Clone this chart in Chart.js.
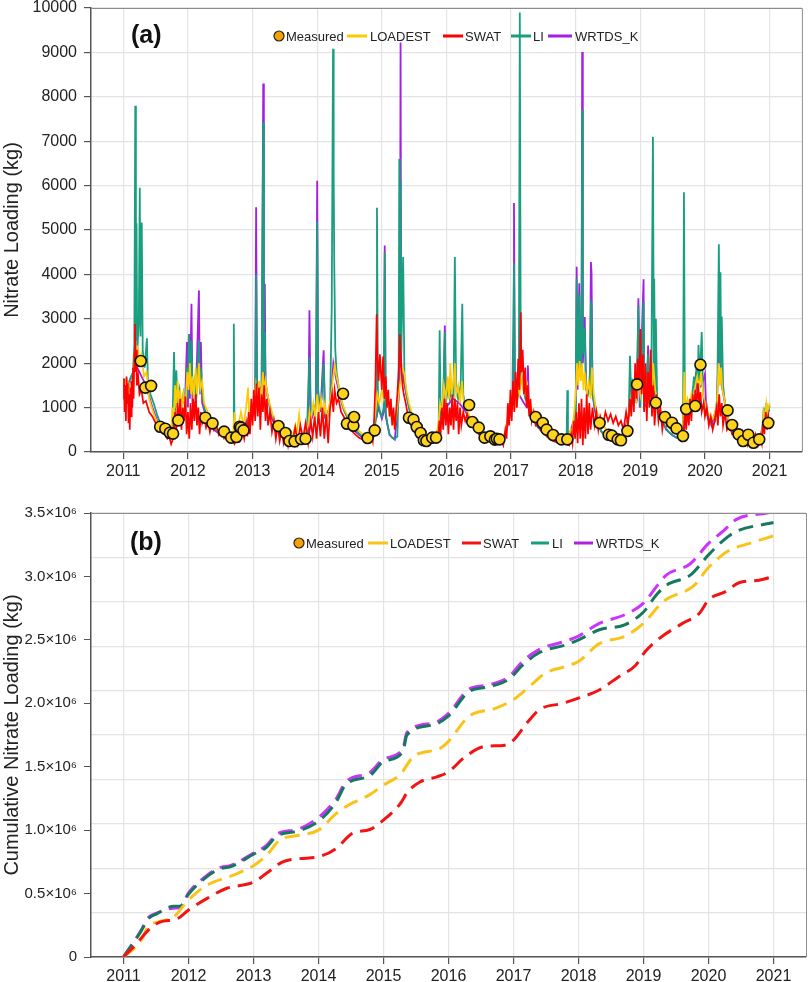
<!DOCTYPE html>
<html>
<head>
<meta charset="utf-8">
<script src="https://cdn.jsdelivr.net/npm/chart.js@4.4.1/dist/chart.umd.min.js"></script>
<style>
  body { margin: 0; background: #fff; }
  #wrap { position: relative; width: 809px; height: 982px; }
  canvas { position: absolute; left: 0; }
</style>
</head>
<body>
<div id="wrap">
  <canvas id="loadChart" width="809" height="478" style="top:0"></canvas>
  <canvas id="cumChart" width="809" height="504" style="top:478px"></canvas>
</div>
<script>
const FONT = '"Liberation Sans", Arial, sans-serif';

const seriesNames = ['Measured', 'LOADEST', 'SWAT', 'LI', 'WRTDS_K'];
const years = [2011, 2012, 2013, 2014, 2015, 2016, 2017, 2018, 2019, 2020, 2021];
const loadTicks = [0, 1000, 2000, 3000, 4000, 5000, 6000, 7000, 8000, 9000, 10000];
const cumTicks = [0, 500000, 1000000, 1500000, 2000000, 2500000, 3000000, 3500000];
const cumTickLabels = ['0', '0.5×10⁶', '1.0×10⁶', '1.5×10⁶', '2.0×10⁶', '2.5×10⁶', '3.0×10⁶', '3.5×10⁶'];

// (a) daily loading, [decimal year, kg]
const measured = [
  [2011.27,2050],[2011.34,1450],[2011.43,1490],[2011.57,570],[2011.65,525],[2011.72,435],[2011.77,413],[2011.85,713],
  [2012.27,773],[2012.38,645],[2012.56,458],[2012.67,323],[2012.75,338],[2012.80,570],[2012.82,548],[2012.86,488],
  [2013.40,585],[2013.51,428],[2013.57,248],[2013.65,240],[2013.75,293],[2013.82,300],
  [2014.40,1313],[2014.46,638],[2014.56,593],[2014.57,788],[2014.78,315],[2014.89,488],
  [2015.42,773],[2015.49,728],[2015.54,563],[2015.60,428],[2015.65,263],[2015.69,248],[2015.78,323],[2015.84,323],
  [2016.35,1058],[2016.40,675],[2016.50,548],[2016.59,323],[2016.68,353],[2016.75,278],[2016.78,300],[2016.82,285],
  [2017.38,788],[2017.49,653],[2017.55,503],[2017.65,383],[2017.78,285],[2017.87,285],
  [2018.37,653],[2018.51,390],[2018.56,368],[2018.65,285],[2018.70,263],[2018.80,473],[2018.95,1523],
  [2019.24,1110],[2019.38,788],[2019.49,660],[2019.56,533],[2019.66,360],[2019.71,968],[2019.85,1035],[2019.93,1965],
  [2020.35,938],[2020.42,608],[2020.52,398],[2020.59,248],[2020.67,390],[2020.75,210],[2020.84,285],[2020.98,653]
];

const swat = [
  [2011.00,1200],[2011.01,1650],[2011.02,900],[2011.03,1500],[2011.04,700],[2011.05,1700],[2011.06,1100],[2011.07,1550],[2011.08,650],[2011.09,1300],
  [2011.10,500],[2011.11,1450],[2011.12,800],[2011.13,1600],[2011.14,1000],[2011.15,1900],[2011.16,1200],[2011.17,2200],[2011.18,2880],[2011.19,1800],
  [2011.20,2300],[2011.21,1500],[2011.23,1700],[2011.25,1300],[2011.28,1400],[2011.31,1100],[2011.35,1150],[2011.40,900],[2011.45,800],[2011.50,650],
  [2011.55,520],[2011.60,450],[2011.65,380],[2011.68,300],[2011.71,350],[2011.74,180],[2011.76,260],[2011.78,500],[2011.80,900],[2011.82,450],
  [2011.84,1100],[2011.86,600],[2011.88,1200],[2011.90,500],[2011.92,1000],[2011.94,700],[2011.96,1250],[2011.98,400],
  [2012.00,900],[2012.02,300],[2012.04,1100],[2012.06,500],[2012.08,1200],[2012.10,700],[2012.12,1300],[2012.14,600],[2012.16,1000],[2012.18,400],
  [2012.20,900],[2012.22,650],[2012.25,800],[2012.28,550],[2012.31,700],[2012.34,450],[2012.37,650],[2012.40,500],[2012.44,600],[2012.48,380],
  [2012.52,450],[2012.56,300],[2012.60,350],[2012.64,220],[2012.68,280],[2012.72,180],[2012.76,350],[2012.80,250],[2012.84,500],[2012.87,300],
  [2012.90,650],[2012.92,350],[2012.94,900],[2012.96,400],[2012.98,1200],
  [2013.00,600],[2013.02,1400],[2013.04,700],[2013.06,1550],[2013.08,800],[2013.10,1450],[2013.12,500],[2013.14,1300],[2013.16,900],[2013.18,1500],
  [2013.20,700],[2013.22,1200],[2013.24,600],[2013.27,900],[2013.30,450],[2013.33,700],[2013.36,300],[2013.39,600],[2013.42,250],[2013.45,500],
  [2013.48,200],[2013.52,450],[2013.55,150],[2013.58,400],[2013.62,250],[2013.66,550],[2013.70,200],[2013.74,600],[2013.78,300],[2013.82,650],
  [2013.86,200],[2013.90,700],[2013.93,350],[2013.96,800],[2013.99,300],
  [2014.02,900],[2014.05,350],[2014.08,1000],[2014.11,300],[2014.14,850],[2014.17,200],[2014.20,1000],[2014.23,1300],[2014.25,900],[2014.27,1400],
  [2014.30,1100],[2014.33,1200],[2014.37,900],[2014.41,800],[2014.45,650],[2014.50,550],[2014.55,450],[2014.60,380],[2014.65,320],[2014.70,280],
  [2014.75,250],[2014.80,220],[2014.84,400],[2014.86,250],[2014.88,700],[2014.90,1500],[2014.92,3100],[2014.93,2200],[2014.95,1600],[2014.97,2200],
  [2015.00,1400],[2015.02,2150],[2015.04,1200],[2015.06,1700],[2015.08,1000],[2015.10,1400],[2015.12,800],[2015.14,1200],[2015.16,600],[2015.18,1000],
  [2015.20,500],[2015.22,900],[2015.24,1300],[2015.26,1800],[2015.28,2650],[2015.30,1900],[2015.32,1500],[2015.34,1300],[2015.37,1100],[2015.40,850],
  [2015.44,700],[2015.48,550],[2015.53,450],[2015.58,350],[2015.63,280],[2015.68,250],[2015.73,300],[2015.78,250],[2015.83,350],[2015.87,250],
  [2015.89,700],[2015.91,400],[2015.93,1000],[2015.95,500],[2015.97,1200],[2015.99,600],
  [2016.01,1100],[2016.03,400],[2016.05,1000],[2016.07,600],[2016.09,1300],[2016.11,500],[2016.13,1200],[2016.15,700],[2016.17,1100],[2016.19,400],
  [2016.21,1000],[2016.23,600],[2016.26,900],[2016.29,700],[2016.32,850],[2016.36,650],[2016.40,600],[2016.45,500],[2016.50,400],[2016.55,330],
  [2016.60,280],[2016.65,250],[2016.70,220],[2016.75,200],[2016.80,180],[2016.85,250],[2016.88,150],[2016.91,500],[2016.93,300],[2016.95,1100],
  [2016.97,600],[2016.99,1400],
  [2017.01,700],[2017.03,1600],[2017.05,900],[2017.07,1800],[2017.09,1000],[2017.11,2100],[2017.13,1400],[2017.15,3150],[2017.16,1800],[2017.18,2300],
  [2017.20,1300],[2017.22,1900],[2017.24,1000],[2017.26,1500],[2017.28,800],[2017.30,1200],[2017.32,700],[2017.35,900],[2017.38,600],[2017.42,650],
  [2017.46,500],[2017.50,450],[2017.55,350],[2017.60,300],[2017.65,250],[2017.70,220],[2017.75,200],[2017.80,180],[2017.85,200],[2017.90,150],
  [2017.93,400],[2017.95,200],[2017.97,700],[2017.99,300],
  [2018.01,900],[2018.03,200],[2018.05,1100],[2018.07,300],[2018.09,1200],[2018.11,150],[2018.13,1000],[2018.15,300],[2018.17,1300],[2018.19,400],
  [2018.21,1100],[2018.23,500],[2018.26,1000],[2018.29,600],[2018.32,900],[2018.35,500],[2018.38,800],[2018.42,600],[2018.46,900],[2018.50,700],
  [2018.54,850],[2018.58,650],[2018.62,800],[2018.66,600],[2018.70,700],[2018.74,500],[2018.78,900],[2018.81,600],[2018.84,1200],[2018.86,800],
  [2018.88,1600],[2018.90,900],[2018.92,2000],[2018.94,1200],[2018.96,2100],[2018.98,1400],
  [2019.00,2770],[2019.02,1300],[2019.04,2200],[2019.06,900],[2019.08,2000],[2019.10,700],[2019.12,1800],[2019.14,1000],[2019.16,2300],[2019.18,800],
  [2019.20,1500],[2019.22,600],[2019.25,1300],[2019.28,700],[2019.31,1000],[2019.34,500],[2019.37,800],[2019.41,600],[2019.45,700],[2019.50,450],
  [2019.55,550],[2019.60,350],[2019.64,250],[2019.67,400],[2019.69,1000],[2019.71,500],[2019.73,1100],[2019.75,600],[2019.77,1200],[2019.79,700],
  [2019.81,1300],[2019.83,900],[2019.85,1400],[2019.87,1000],[2019.89,1550],[2019.91,1100],[2019.93,1350],[2019.95,900],[2019.98,1100],
  [2020.00,800],[2020.03,1000],[2020.06,600],[2020.09,800],[2020.12,500],[2020.15,700],[2020.18,1000],[2020.20,600],[2020.22,1300],[2020.24,800],
  [2020.26,1100],[2020.28,600],[2020.31,900],[2020.34,500],[2020.38,600],[2020.42,400],[2020.46,450],[2020.50,300],[2020.54,350],[2020.58,200],
  [2020.62,300],[2020.66,150],[2020.70,350],[2020.74,200],[2020.78,400],[2020.82,150],[2020.86,350],[2020.88,200],[2020.90,700],[2020.92,400],
  [2020.94,900],[2020.96,500],[2020.98,800],[2021.00,600]
];

const loadest = [
  [2011.00,1500],[2011.05,1650],[2011.10,1400],[2011.15,1700],[2011.18,2300],[2011.20,1900],[2011.22,2400],[2011.25,2000],[2011.28,2200],[2011.32,1700],
  [2011.36,1800],[2011.40,1200],[2011.45,950],[2011.50,750],[2011.55,600],[2011.60,520],[2011.65,450],[2011.70,400],[2011.74,380],[2011.76,1000],
  [2011.78,700],[2011.80,1500],[2011.82,1000],[2011.84,1600],[2011.86,1100],[2011.88,1400],[2011.90,900],[2011.93,1300],[2011.96,1000],[2011.99,1800],
  [2012.01,1400],[2012.03,2000],[2012.05,1300],[2012.07,1700],[2012.09,1200],[2012.12,1900],[2012.14,1300],[2012.17,2000],[2012.19,1400],[2012.22,1600],
  [2012.25,1100],[2012.28,1000],[2012.32,850],[2012.36,700],[2012.40,600],[2012.45,550],[2012.50,450],[2012.55,400],[2012.60,350],[2012.65,320],
  [2012.70,400],[2012.72,900],[2012.74,500],[2012.78,600],[2012.82,900],[2012.86,600],[2012.90,1000],[2012.93,1450],[2012.95,700],[2012.98,900],
  [2013.02,1100],[2013.05,1500],[2013.07,1200],[2013.10,1600],[2013.13,1100],[2013.16,1800],[2013.18,1300],[2013.20,1600],[2013.23,1300],[2013.26,1100],
  [2013.30,900],[2013.34,700],[2013.38,550],[2013.42,450],[2013.47,400],[2013.52,350],[2013.57,300],[2013.62,350],[2013.66,600],[2013.68,400],
  [2013.72,850],[2013.74,500],[2013.78,400],[2013.82,450],[2013.86,600],[2013.88,900],[2013.90,700],[2013.94,1100],[2013.97,800],
  [2014.00,1300],[2014.03,900],[2014.06,1200],[2014.09,800],[2014.12,1100],[2014.15,700],[2014.18,1000],[2014.21,1200],[2014.24,1600],[2014.27,1950],
  [2014.30,1700],[2014.33,1500],[2014.37,1200],[2014.41,1000],[2014.46,850],[2014.52,700],[2014.58,600],[2014.64,480],[2014.70,400],[2014.76,350],
  [2014.82,330],[2014.87,500],[2014.90,900],[2014.93,1300],[2014.96,1100],
  [2015.00,1400],[2015.03,1200],[2015.06,1500],[2015.09,1100],[2015.12,900],[2015.16,700],[2015.20,600],[2015.23,900],[2015.26,1300],[2015.29,1600],
  [2015.32,1900],[2015.35,1750],[2015.38,1400],[2015.42,1100],[2015.46,900],[2015.50,750],[2015.55,600],[2015.60,480],[2015.65,400],[2015.70,350],
  [2015.75,330],[2015.80,350],[2015.85,400],[2015.88,700],[2015.90,1100],[2015.93,900],[2015.96,1500],[2015.99,1200],
  [2016.02,1700],[2016.04,1200],[2016.06,2000],[2016.08,1300],[2016.11,1600],[2016.13,2000],[2016.15,1300],[2016.18,1500],[2016.21,1100],[2016.24,1600],
  [2016.26,1200],[2016.29,1000],[2016.33,900],[2016.37,750],[2016.42,650],[2016.48,550],[2016.54,450],[2016.60,380],[2016.66,330],[2016.72,300],
  [2016.78,290],[2016.84,300],[2016.88,350],[2016.92,500],[2016.95,800],[2016.98,1100],
  [2017.01,1000],[2017.04,1400],[2017.07,1100],[2017.10,1500],[2017.13,1300],[2017.16,1700],[2017.19,1400],[2017.22,1300],[2017.25,1500],[2017.28,1100],
  [2017.32,950],[2017.36,800],[2017.40,700],[2017.45,600],[2017.50,500],[2017.55,430],[2017.60,380],[2017.66,330],[2017.72,300],[2017.78,280],
  [2017.84,290],[2017.88,320],[2017.92,500],[2017.94,400],[2017.97,800],
  [2018.00,1300],[2018.02,2000],[2018.04,1500],[2018.06,2050],[2018.08,1600],[2018.10,2000],[2018.12,1400],[2018.14,1800],[2018.17,1300],[2018.20,1600],
  [2018.23,1200],[2018.25,1900],[2018.28,1300],[2018.31,1000],[2018.35,800],[2018.40,650],[2018.45,550],[2018.50,480],[2018.55,420],[2018.60,380],
  [2018.65,350],[2018.70,330],[2018.75,400],[2018.79,600],[2018.82,900],[2018.85,1100],[2018.88,1300],[2018.91,1500],[2018.94,1200],[2018.97,1700],
  [2019.00,1300],[2019.03,1700],[2019.06,1200],[2019.09,1500],[2019.12,1100],[2019.15,1700],[2019.18,1300],[2019.20,2000],[2019.23,1400],[2019.26,1200],
  [2019.29,1000],[2019.33,850],[2019.37,700],[2019.42,600],[2019.47,500],[2019.52,450],[2019.57,400],[2019.62,380],[2019.66,450],[2019.68,1800],
  [2019.70,1000],[2019.73,1200],[2019.76,1000],[2019.79,1300],[2019.82,1100],[2019.85,1500],[2019.88,1700],[2019.91,1400],[2019.94,1800],[2019.97,1300],
  [2020.00,1100],[2020.04,900],[2020.08,800],[2020.12,750],[2020.16,900],[2020.19,1200],[2020.21,2000],[2020.23,1500],[2020.25,1900],[2020.27,1400],
  [2020.30,1200],[2020.33,900],[2020.37,700],[2020.42,550],[2020.48,450],[2020.54,380],[2020.60,330],[2020.66,300],[2020.72,320],[2020.78,350],
  [2020.84,330],[2020.88,400],[2020.91,900],[2020.93,700],[2020.95,1100],[2020.97,900],[2021.00,1100]
];

const li = [
  [2011.00,1650],[2011.04,1600],[2011.08,1550],[2011.12,1700],[2011.15,1800],[2011.17,2400],[2011.185,7800],[2011.195,2500],[2011.205,5150],[2011.215,2200],
  [2011.24,3000],[2011.255,5950],[2011.265,2600],[2011.285,5170],[2011.30,2300],[2011.33,1900],[2011.365,2560],[2011.38,1600],[2011.42,1300],[2011.47,1100],
  [2011.52,850],[2011.57,650],[2011.62,550],[2011.67,480],[2011.72,420],[2011.76,600],[2011.785,2250],[2011.80,900],[2011.82,1840],[2011.84,1100],
  [2011.87,1400],[2011.90,1000],[2011.93,1300],[2011.96,900],[2011.985,1900],
  [2012.00,1200],[2012.015,2660],[2012.03,1500],[2012.055,2510],[2012.07,1300],[2012.10,1600],[2012.13,1200],[2012.17,2510],[2012.185,1400],[2012.20,1900],
  [2012.23,1200],[2012.27,900],[2012.31,750],[2012.36,620],[2012.42,520],[2012.48,440],[2012.54,380],[2012.60,330],[2012.66,300],[2012.70,400],
  [2012.71,2890],[2012.72,500],[2012.76,400],[2012.80,450],[2012.85,550],[2012.90,650],[2012.95,800],
  [2013.00,900],[2013.04,1100],[2013.055,3990],[2013.07,1200],[2013.10,1300],[2013.14,1500],[2013.165,7430],[2013.175,1800],[2013.19,2700],[2013.20,1600],
  [2013.23,1300],[2013.27,1000],[2013.31,800],[2013.36,600],[2013.41,480],[2013.47,400],[2013.53,320],[2013.60,280],[2013.66,300],[2013.72,350],
  [2013.78,330],[2013.84,400],[2013.88,2140],[2013.90,800],[2013.94,900],[2013.98,1100],
  [2014.00,5190],[2014.015,1400],[2014.04,1000],[2014.07,1200],[2014.10,2000],[2014.12,900],[2014.16,800],[2014.20,1100],[2014.225,3260],[2014.235,6110],
  [2014.245,9080],[2014.255,6230],[2014.265,4090],[2014.28,2300],[2014.30,1800],[2014.34,1400],[2014.38,1100],[2014.43,900],[2014.48,750],[2014.54,600],
  [2014.60,480],[2014.66,400],[2014.72,330],[2014.78,300],[2014.84,280],[2014.88,350],[2014.91,800],[2014.925,5500],[2014.94,1200],[2014.97,900],
  [2015.00,800],[2015.03,1000],[2015.045,4500],[2015.06,900],[2015.09,600],[2015.12,400],[2015.16,320],[2015.20,300],[2015.24,350],[2015.26,1500],
  [2015.27,6600],[2015.28,2500],[2015.29,6100],[2015.30,2200],[2015.33,4390],[2015.35,1700],[2015.38,1300],[2015.42,1000],[2015.46,800],[2015.50,600],
  [2015.55,450],[2015.60,350],[2015.66,300],[2015.72,280],[2015.78,300],[2015.84,350],[2015.88,600],[2015.895,2740],[2015.91,800],[2015.95,1200],
  [2015.975,2700],[2015.99,1100],
  [2016.02,1400],[2016.05,1200],[2016.08,1500],[2016.11,1300],[2016.13,4390],[2016.15,1400],[2016.18,1200],[2016.22,1500],[2016.245,3340],[2016.26,1300],
  [2016.29,1000],[2016.33,850],[2016.38,700],[2016.44,580],[2016.50,480],[2016.56,400],[2016.62,340],[2016.68,300],[2016.74,270],[2016.80,260],
  [2016.86,280],[2016.90,350],[2016.94,600],[2016.98,900],
  [2017.02,1200],[2017.045,4250],[2017.06,1300],[2017.09,1100],[2017.12,1400],[2017.135,9900],[2017.15,1800],[2017.18,1500],[2017.22,1200],[2017.26,1100],
  [2017.30,900],[2017.35,750],[2017.40,600],[2017.46,500],[2017.52,420],[2017.58,360],[2017.64,320],[2017.70,290],[2017.76,270],[2017.82,260],
  [2017.86,300],[2017.87,1390],[2017.88,400],[2017.95,500],
  [2018.00,900],[2018.015,3900],[2018.03,1500],[2018.055,3550],[2018.07,1800],[2018.09,2000],[2018.10,7700],[2018.11,2200],[2018.14,2800],[2018.16,1500],
  [2018.19,1300],[2018.22,1500],[2018.235,3350],[2018.245,3300],[2018.26,1300],[2018.30,1000],[2018.34,700],[2018.38,500],[2018.43,400],[2018.48,350],
  [2018.54,320],[2018.60,300],[2018.66,300],[2018.72,320],[2018.78,400],[2018.82,800],[2018.84,2170],[2018.86,1200],[2018.88,1600],[2018.91,1500],
  [2018.94,1100],[2018.97,3300],
  [2019.00,1000],[2019.05,3400],[2019.06,1100],[2019.09,1300],[2019.12,2200],[2019.14,1300],[2019.17,1500],[2019.195,7100],[2019.21,1500],[2019.215,3900],
  [2019.23,1200],[2019.24,3000],[2019.26,1200],[2019.30,900],[2019.34,700],[2019.39,550],[2019.44,450],[2019.50,380],[2019.56,320],[2019.62,300],
  [2019.66,350],[2019.675,5850],[2019.69,800],[2019.72,700],[2019.76,900],[2019.80,1200],[2019.83,1700],[2019.85,1300],[2019.87,2000],[2019.89,1600],
  [2019.90,2410],[2019.92,1600],[2019.95,2700],[2019.97,1300],
  [2020.00,1000],[2020.04,800],[2020.08,650],[2020.12,600],[2020.16,700],[2020.19,1200],[2020.215,4680],[2020.23,2000],[2020.24,4050],[2020.25,1800],
  [2020.26,3050],[2020.28,1500],[2020.31,1100],[2020.35,800],[2020.40,550],[2020.46,420],[2020.52,340],[2020.58,300],[2020.64,280],[2020.70,300],
  [2020.76,320],[2020.82,300],[2020.88,350],[2020.91,1000],[2020.93,600],[2020.95,1100],[2020.97,800],[2021.00,1050]
];

const wrtds = [
  [2011.00,1500],[2011.10,1450],[2011.18,2000],[2011.25,1800],[2011.35,1500],[2011.45,1000],[2011.55,600],[2011.65,430],[2011.75,400],[2011.85,900],
  [2011.95,900],[2011.985,2475],[2012.00,1000],[2012.015,2660],[2012.03,1200],[2012.055,3340],[2012.07,1100],[2012.12,1100],[2012.17,3640],[2012.185,1300],
  [2012.20,2475],[2012.22,1100],[2012.30,700],[2012.40,500],[2012.50,400],[2012.60,300],[2012.70,280],[2012.80,400],[2012.90,600],
  [2013.00,800],[2013.04,1000],[2013.055,5510],[2013.07,1100],[2013.14,1300],[2013.165,8300],[2013.175,1600],[2013.19,3790],[2013.20,1500],[2013.30,750],
  [2013.40,450],[2013.50,330],[2013.60,260],[2013.70,300],[2013.80,320],[2013.86,400],[2013.88,3190],[2013.90,700],[2013.98,1000],
  [2014.00,6110],[2014.015,1300],[2014.05,900],[2014.10,2290],[2014.12,800],[2014.20,1000],[2014.25,2000],[2014.30,1600],[2014.40,1000],[2014.50,650],
  [2014.60,450],[2014.70,320],[2014.80,270],[2014.90,700],[2014.95,1000],
  [2015.00,750],[2015.03,900],[2015.045,4650],[2015.06,800],[2015.12,380],[2015.20,280],[2015.26,1200],[2015.28,2000],[2015.29,9225],[2015.30,2000],
  [2015.35,1500],[2015.45,800],[2015.55,420],[2015.65,300],[2015.75,270],[2015.85,330],[2015.90,700],[2015.95,1000],[2015.975,2850],[2015.99,1000],
  [2016.10,1200],[2016.20,1100],[2016.30,900],[2016.40,620],[2016.50,450],[2016.60,330],[2016.70,280],[2016.80,250],[2016.90,330],[2016.98,800],
  [2017.03,1100],[2017.045,5610],[2017.06,1200],[2017.12,1300],[2017.20,1100],[2017.25,1000],[2017.26,1950],[2017.28,900],[2017.40,580],[2017.50,420],
  [2017.60,340],[2017.70,280],[2017.80,250],[2017.90,380],
  [2018.00,850],[2018.015,4170],[2018.03,1400],[2018.055,3800],[2018.07,1700],[2018.09,1900],[2018.10,9010],[2018.11,2000],[2018.14,3040],[2018.16,1400],
  [2018.22,1400],[2018.235,4280],[2018.245,4050],[2018.26,1300],[2018.30,900],[2018.40,450],[2018.50,330],[2018.60,290],[2018.70,300],[2018.80,700],
  [2018.90,1300],[2018.95,1200],[2018.97,3460],[2018.99,1000],
  [2019.05,3890],[2019.06,1000],[2019.10,1100],[2019.12,2400],[2019.14,1200],[2019.20,1400],[2019.30,850],[2019.40,500],[2019.50,370],[2019.60,300],
  [2019.66,330],[2019.70,700],[2019.80,1100],[2019.84,1300],[2019.86,1800],[2019.88,1400],[2019.95,1500],
  [2020.00,1760],[2020.02,900],[2020.10,600],[2020.18,1000],[2020.22,2500],[2020.26,1500],[2020.35,750],[2020.45,400],[2020.55,300],[2020.65,270],
  [2020.75,300],[2020.85,280],[2020.92,800],[2021.00,950]
];

// (b) cumulative loading, [decimal year, kg]
const cumLoadest = [
  [2011.0,0],[2011.26,120000],[2011.38,240000],[2011.56,280000],[2011.77,315000],[2012.0,450000],[2012.28,565000],[2012.69,645000],[2013.0,720000],
  [2013.2,800000],[2013.4,920000],[2013.7,960000],[2014.0,1000000],[2014.27,1130000],[2014.47,1200000],[2014.79,1280000],[2015.0,1355000],
  [2015.26,1440000],[2015.46,1580000],[2015.87,1645000],[2016.0,1700000],[2016.31,1895000],[2016.72,1960000],[2017.0,2030000],[2017.24,2130000],
  [2017.5,2240000],[2017.8,2290000],[2018.0,2330000],[2018.32,2470000],[2018.72,2530000],[2019.0,2630000],[2019.3,2800000],[2019.78,2930000],
  [2020.0,3070000],[2020.3,3200000],[2020.63,3260000],[2021.0,3320000]
];
const cumSwat = [
  [2011.0,0],[2011.2,105000],[2011.38,210000],[2011.56,275000],[2011.82,300000],[2012.0,370000],[2012.28,460000],[2012.58,540000],[2013.0,590000],
  [2013.2,660000],[2013.45,750000],[2013.7,775000],[2014.0,790000],[2014.27,855000],[2014.52,975000],[2014.79,1005000],[2015.0,1080000],
  [2015.26,1210000],[2015.37,1300000],[2015.56,1380000],[2015.82,1420000],[2016.0,1460000],[2016.26,1580000],[2016.56,1660000],[2016.87,1670000],
  [2017.0,1710000],[2017.2,1840000],[2017.4,1950000],[2017.76,2000000],[2018.0,2040000],[2018.32,2105000],[2018.62,2210000],[2018.88,2300000],
  [2019.03,2410000],[2019.24,2510000],[2019.6,2630000],[2019.86,2710000],[2020.0,2815000],[2020.26,2880000],[2020.47,2950000],[2020.78,2970000],
  [2021.0,3000000]
];
const cumLi = [
  [2011.0,0],[2011.26,195000],[2011.38,300000],[2011.51,340000],[2011.77,400000],[2011.87,400000],[2012.0,495000],[2012.25,620000],[2012.48,695000],
  [2012.64,710000],[2013.0,810000],[2013.2,865000],[2013.35,950000],[2013.7,995000],[2014.0,1070000],[2014.27,1220000],[2014.42,1360000],
  [2014.79,1430000],[2015.0,1540000],[2015.30,1620000],[2015.36,1750000],[2015.77,1830000],[2016.0,1900000],[2016.31,2090000],[2016.62,2130000],
  [2016.93,2190000],[2017.14,2300000],[2017.40,2400000],[2017.8,2460000],[2018.0,2500000],[2018.32,2580000],[2018.72,2620000],[2019.0,2720000],
  [2019.2,2855000],[2019.35,2930000],[2019.72,3010000],[2020.0,3170000],[2020.22,3280000],[2020.43,3355000],[2020.9,3415000],[2021.0,3425000]
];
const cumWrtds = [
  [2011.0,0],[2011.26,200000],[2011.38,310000],[2011.51,345000],[2011.77,385000],[2011.87,390000],[2012.0,505000],[2012.25,630000],[2012.48,705000],
  [2012.64,720000],[2013.0,820000],[2013.2,880000],[2013.35,965000],[2013.7,1010000],[2014.0,1100000],[2014.27,1245000],[2014.42,1380000],
  [2014.79,1455000],[2015.0,1560000],[2015.30,1645000],[2015.36,1770000],[2015.77,1845000],[2016.0,1920000],[2016.31,2110000],[2016.62,2145000],
  [2016.93,2210000],[2017.14,2330000],[2017.40,2425000],[2017.8,2490000],[2018.0,2530000],[2018.32,2630000],[2018.72,2700000],[2019.0,2790000],
  [2019.2,2920000],[2019.35,3010000],[2019.72,3100000],[2020.0,3260000],[2020.22,3355000],[2020.43,3450000],[2020.9,3500000],[2021.0,3510000]
];

const toXY = arr => arr.map(([x, y]) => ({ x, y }));

// frame, panel tag and in-plot legend
const panelPlugin = {
  id: 'panel',
  afterDraw(chart, args, opts) {
    const { ctx, chartArea: a } = chart;
    ctx.save();
    ctx.strokeStyle = '#8c8c8c';
    ctx.lineWidth = 1;
    ctx.beginPath();
    ctx.moveTo(a.left, a.top + 0.5);
    ctx.lineTo(a.right + 0.5, a.top + 0.5);
    ctx.lineTo(a.right + 0.5, a.bottom);
    ctx.stroke();

    ctx.fillStyle = '#111';
    ctx.font = 'bold 25px ' + FONT;
    ctx.textBaseline = 'middle';
    ctx.fillText(opts.tag, opts.tagX, opts.tagY);

    ctx.font = '13px ' + FONT;
    opts.items.forEach((it, i) => {
      const y = opts.legendY;
      if (i === 0) {
        ctx.beginPath();
        ctx.arc(it.x, y, 5, 0, Math.PI * 2);
        ctx.fillStyle = it.color;
        ctx.fill();
        ctx.strokeStyle = '#222';
        ctx.lineWidth = 1.2;
        ctx.stroke();
      } else {
        ctx.strokeStyle = it.color;
        ctx.lineWidth = 3;
        ctx.beginPath();
        ctx.moveTo(it.x, y);
        ctx.lineTo(it.x + it.len, y);
        ctx.stroke();
      }
      ctx.fillStyle = '#222';
      ctx.fillText(seriesNames[i], it.tx, y + 1);
    });
    ctx.restore();
  }
};

const titleFont = { family: FONT, size: 20 };
const GRID = '#e4e4e4';
const AXIS = '#555';
// keep the plot box where the padding puts it, labels may overhang
const noOverhang = s => { s.width = 91; s.paddingTop = 0; s.paddingBottom = 0; };

function xAxis(h) {
  return {
    type: 'linear', min: 2010.5, max: 2021.5,
    afterBuildTicks: s => { s.ticks = years.map(v => ({ value: v })); },
    afterFit: s => { s.height = h; },
    ticks: { font: { family: FONT, size: 16 }, color: '#222', padding: 3, maxRotation: 0, callback: v => String(v) },
    grid: { color: GRID, lineWidth: 1.2, tickColor: AXIS, tickLength: 7 },
    border: { color: AXIS, width: 1.5 }
  };
}

new Chart(document.getElementById('loadChart'), {
  type: 'line',
  data: {
    datasets: [
      { label: 'Measured', data: toXY(measured), showLine: false, pointRadius: 5.5,
        pointBackgroundColor: '#FFD21C', pointBorderColor: '#111', pointBorderWidth: 1.6 },
      { label: 'SWAT', data: toXY(swat), borderColor: '#FF0000', borderWidth: 1.7, pointRadius: 0 },
      { label: 'LOADEST', data: toXY(loadest), borderColor: '#FFCB00', borderWidth: 1.7, pointRadius: 0 },
      { label: 'LI', data: toXY(li), borderColor: '#1A9E80', borderWidth: 1.8, pointRadius: 0 },
      { label: 'WRTDS_K', data: toXY(wrtds), borderColor: '#A41FE6', borderWidth: 1.8, pointRadius: 0 }
    ]
  },
  options: {
    responsive: false, animation: false, devicePixelRatio: 1,
    layout: { padding: { left: 0, right: 3, top: 8, bottom: 0 } },
    plugins: {
      legend: { display: false }, tooltip: { enabled: false },
      panel: {
        tag: '(a)', tagX: 131, tagY: 36, legendY: 36,
        items: [
          { x: 279, tx: 286, color: '#F5A300' },
          { x: 347, len: 20, tx: 370, color: '#FFCB00' },
          { x: 443, len: 20, tx: 465, color: '#FF0000' },
          { x: 511, len: 20, tx: 533, color: '#1A9E80' },
          { x: 548, len: 24, tx: 575, color: '#A41FE6' }
        ]
      }
    },
    scales: {
      x: xAxis(26),
      y: {
        min: 0, max: 10000,
        afterBuildTicks: s => { s.ticks = loadTicks.map(v => ({ value: v })); },
        afterFit: noOverhang,
        ticks: { font: { family: FONT, size: 16 }, color: '#222', padding: 7, callback: v => String(v) },
        grid: { color: GRID, lineWidth: 1.2, tickColor: AXIS, tickLength: 7 },
        border: { color: AXIS, width: 1.5 },
        title: { display: true, text: 'Nitrate Loading (kg)', font: titleFont, color: '#222', padding: { top: 0, bottom: 2 } }
      }
    }
  },
  plugins: [panelPlugin]
});

new Chart(document.getElementById('cumChart'), {
  type: 'line',
  data: {
    datasets: [
      { label: 'SWAT', data: toXY(cumSwat), borderColor: '#F21414', borderWidth: 3, borderDash: [15, 8], pointRadius: 0, cubicInterpolationMode: 'monotone' },
      { label: 'LOADEST', data: toXY(cumLoadest), borderColor: '#F9C31A', borderWidth: 3, borderDash: [15, 8], pointRadius: 0, cubicInterpolationMode: 'monotone' },
      { label: 'LI', data: toXY(cumLi), borderColor: '#15795D', borderWidth: 3, borderDash: [15, 8], pointRadius: 0, cubicInterpolationMode: 'monotone' },
      { label: 'WRTDS_K', data: toXY(cumWrtds), borderColor: '#CC33FF', borderWidth: 3, borderDash: [15, 8], pointRadius: 0, cubicInterpolationMode: 'monotone' }
    ]
  },
  options: {
    responsive: false, animation: false, devicePixelRatio: 1,
    layout: { padding: { left: 0, right: 3, top: 35, bottom: 0 } },
    plugins: {
      legend: { display: false }, tooltip: { enabled: false },
      panel: {
        tag: '(b)', tagX: 130, tagY: 65, legendY: 65,
        items: [
          { x: 299, tx: 306, color: '#F5A300' },
          { x: 368, len: 20, tx: 390, color: '#F9C31A' },
          { x: 462, len: 19, tx: 483, color: '#F21414' },
          { x: 531, len: 18, tx: 552, color: '#1A9E80' },
          { x: 574, len: 19, tx: 596, color: '#B020E0' }
        ]
      }
    },
    scales: {
      x: xAxis(25),
      y: {
        min: 0, max: 3500000,
        afterBuildTicks: s => { s.ticks = cumTicks.map(v => ({ value: v })); },
        afterFit: noOverhang,
        ticks: { font: { family: FONT, size: 15 }, color: '#222', padding: 7,
          callback: v => cumTickLabels[cumTicks.indexOf(v)] },
        grid: { drawOnChartArea: false, tickColor: AXIS, tickLength: 7 },
        border: { color: AXIS, width: 1.5 },
        title: { display: true, text: 'Cumulative Nitrate Loading (kg)', font: titleFont, color: '#222', padding: { top: 0, bottom: 2 } }
      },
      yGrid: {
        position: 'left', min: 0, max: 3500000,
        afterBuildTicks: s => { s.ticks = [0,1,2,3,4,5,6,7,8,9,10].map(k => ({ value: k * 350000 })); },
        afterFit: s => { s.width = 0; s.paddingTop = 0; s.paddingBottom = 0; },
        ticks: { display: false },
        grid: { color: GRID, lineWidth: 1.2, drawTicks: false },
        border: { display: false }
      }
    }
  },
  plugins: [panelPlugin]
});
</script>
</body>
</html>
